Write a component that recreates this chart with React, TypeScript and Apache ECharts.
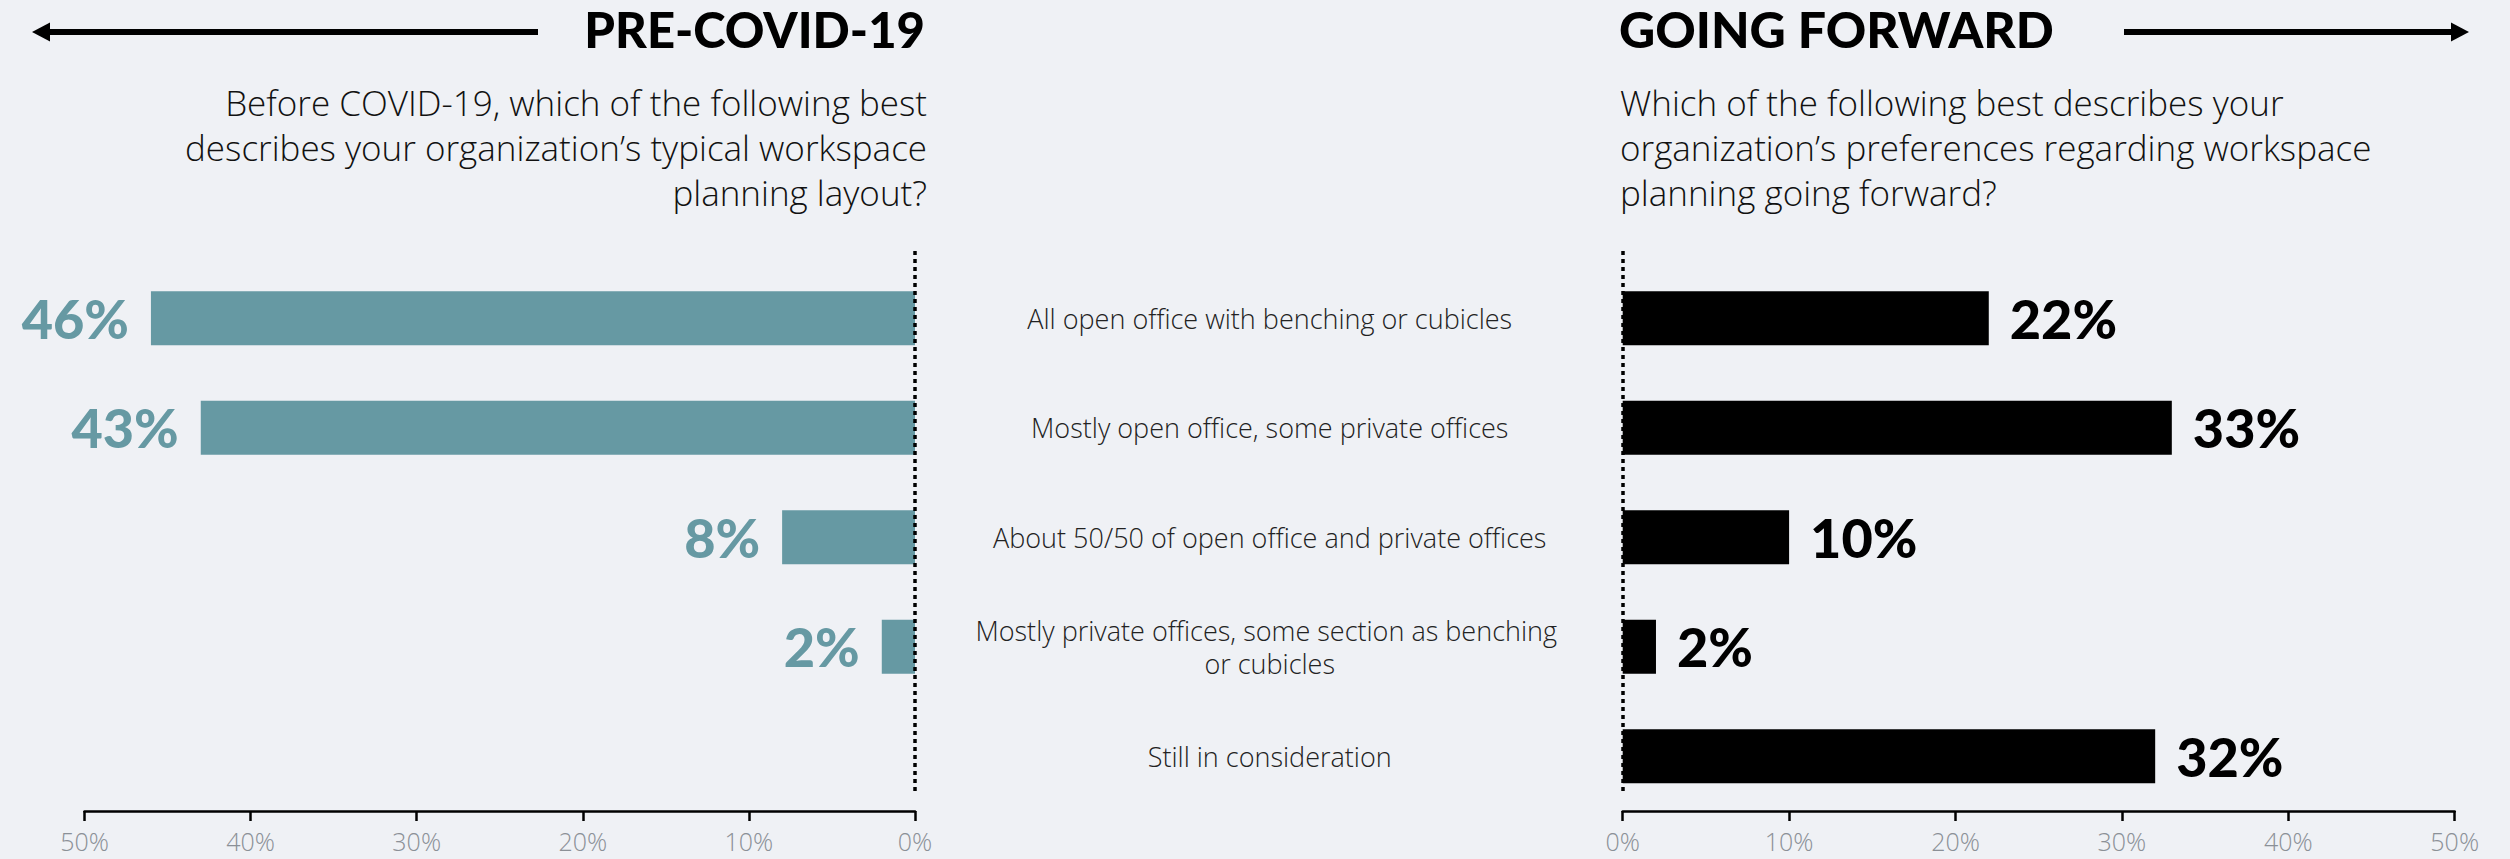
import React, { useEffect, useRef } from "react";
import * as echarts from "echarts";

const categories = [
  "All open office with benching or cubicles",
  "Mostly open office, some private offices",
  "About 50/50 of open office and private offices",
  "Mostly private offices, some section as benching or cubicles",
  "Still in consideration",
];
const preCovidValues: (number | string)[] = [46, 43, 8, 2, "-"];
const goingForwardValues = [22, 33, 10, 2, 32];
const axisMin = 0;
const axisMax = 50;
const axisStep = 10;

const leftTitle = "PRE-COVID-19";
const rightTitle = "GOING FORWARD";
const leftQuestion = [
  "Before COVID-19, which of the following best",
  "describes your organization’s typical workspace",
  "planning layout?",
];
const rightQuestion = [
  "Which of the following best describes your",
  "organization’s preferences regarding workspace",
  "planning going forward?",
];

const BG = "#eff1f5";
const TEAL = "#6699a3";
const BOLD_FONT = "Lato, 'Noto Sans', sans-serif";
const LIGHT_FONT = "'Open Sans', Lato, sans-serif";

export default function App() {
  const ref = useRef<HTMLDivElement>(null);
  useEffect(() => {
    document.body.style.margin = "0";
    document.body.style.background = BG;
    const chart = echarts.init(ref.current!, null, { renderer: "svg" });
    const valueAxis = (gridIndex: number, inverse: boolean) => ({
      type: "value",
      gridIndex,
      min: axisMin,
      max: axisMax,
      interval: axisStep,
      inverse,
      splitLine: { show: false },
      axisLine: { show: true, lineStyle: { color: "#000", width: 2.5 } },
      axisTick: { show: true, length: 10, lineStyle: { color: "#000", width: 2.5 } },
      axisLabel: {
        formatter: "{value}%",
        color: "#8b9097",
        fontSize: 25,
        lineHeight: 28,
        fontFamily: LIGHT_FONT,
        fontWeight: 300,
        margin: 16,
      },
    });
    const dotted = (x: number) => ({
      type: "line",
      shape: { x1: x, y1: 251, x2: x, y2: 795 },
      style: { stroke: "#000", lineWidth: 3.5, lineDash: [4, 4] },
      z: 100,
    });
    const labelStyle = {
      fontSize: 27,
      fontFamily: LIGHT_FONT,
      fontWeight: 300,
      color: "#222",
      lineHeight: 33,
    };
    chart.setOption({
      animation: false,
      backgroundColor: BG,
      grid: [
        { left: 84.5, top: 263.5, width: 830.5, height: 547.5 },
        { left: 1622.7, top: 263.5, width: 832, height: 547.5 },
      ],
      xAxis: [valueAxis(0, true), valueAxis(1, false)],
      yAxis: [
        { type: "category", gridIndex: 0, data: categories, inverse: true, show: false },
        {
          type: "category",
          gridIndex: 1,
          data: categories,
          inverse: true,
          axisLine: { show: false },
          axisTick: { show: false },
          axisLabel: {
            align: "center",
            margin: 353,
            width: 595,
            overflow: "break",
            ...labelStyle,
            formatter: (v: string) => (v.length > 48 ? v : v + "\n{s|}"),
            rich: { s: { lineHeight: 16, fontSize: 10 } },
          },
        },
      ],
      series: [
        {
          type: "bar",
          xAxisIndex: 0,
          yAxisIndex: 0,
          data: preCovidValues,
          barWidth: 54,
          itemStyle: { color: TEAL },
          label: {
            show: true,
            position: "left",
            distance: 22,
            formatter: "{c}%",
            color: TEAL,
            fontSize: 54,
            fontWeight: 900,
            fontFamily: BOLD_FONT,
          },
        },
        {
          type: "bar",
          xAxisIndex: 1,
          yAxisIndex: 1,
          data: goingForwardValues,
          barWidth: 54,
          itemStyle: { color: "#000" },
          label: {
            show: true,
            position: "right",
            distance: 21,
            formatter: "{c}%",
            color: "#000",
            fontSize: 54,
            fontWeight: 900,
            fontFamily: BOLD_FONT,
          },
        },
      ],
      graphic: [
        dotted(915),
        dotted(1623),
        // left arrow
        { type: "line", shape: { x1: 46, y1: 32, x2: 538, y2: 32 }, style: { stroke: "#000", lineWidth: 6 } },
        { type: "polygon", shape: { points: [[32, 32], [50, 22.5], [50, 41.5]] }, style: { fill: "#000" } },
        // right arrow
        { type: "line", shape: { x1: 2124, y1: 32, x2: 2454, y2: 32 }, style: { stroke: "#000", lineWidth: 6 } },
        { type: "polygon", shape: { points: [[2469, 32], [2451, 22.5], [2451, 41.5]] }, style: { fill: "#000" } },
        {
          type: "text",
          x: 925,
          y: 29,
          style: {
            text: leftTitle,
            align: "right",
            verticalAlign: "middle",
            fontSize: 49,
            fontWeight: 900,
            fontFamily: BOLD_FONT,
            fill: "#000",
          },
        },
        {
          type: "text",
          x: 1619,
          y: 29,
          style: {
            text: rightTitle,
            align: "left",
            verticalAlign: "middle",
            fontSize: 50,
            fontWeight: 900,
            fontFamily: BOLD_FONT,
            fill: "#000",
          },
        },
        {
          type: "text",
          x: 927,
          y: 80,
          style: {
            text: leftQuestion.join("\n"),
            align: "right",
            verticalAlign: "top",
            lineHeight: 45,
            fontSize: 35,
            fontWeight: 300,
            fontFamily: LIGHT_FONT,
            fill: "#111",
          },
        },
        {
          type: "text",
          x: 1620,
          y: 80,
          style: {
            text: rightQuestion.join("\n"),
            align: "left",
            verticalAlign: "top",
            lineHeight: 45,
            fontSize: 35,
            fontWeight: 300,
            fontFamily: LIGHT_FONT,
            fill: "#111",
          },
        },
      ],
    });
    return () => chart.dispose();
  }, []);
  return (
    <div
      ref={ref}
      style={{ position: "fixed", left: 0, top: 0, width: 2510, height: 859 }}
    />
  );
}
